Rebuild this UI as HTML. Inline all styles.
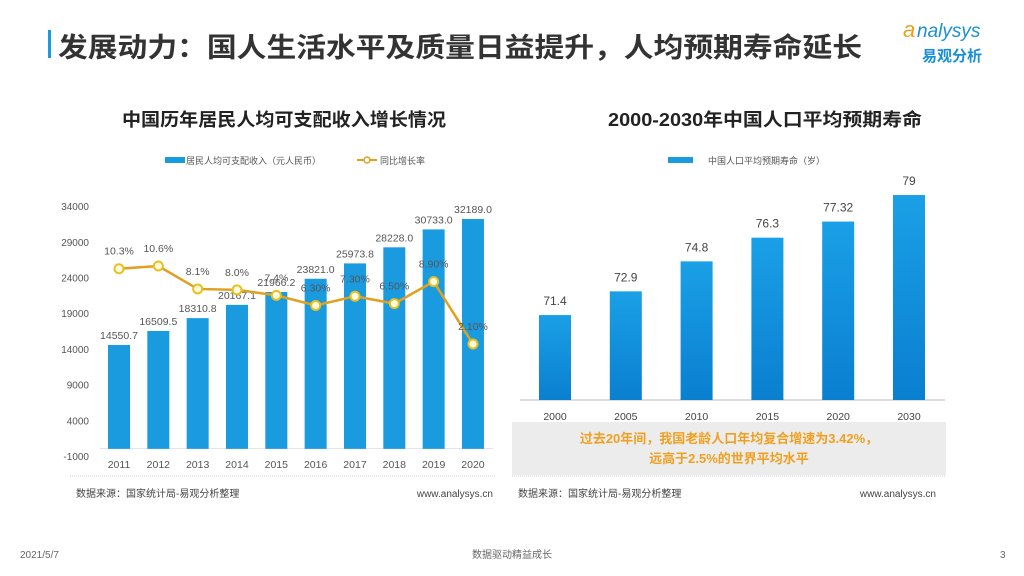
<!DOCTYPE html>
<html><head><meta charset="utf-8"><style>
body{margin:0;width:1024px;height:576px;background:#fff;overflow:hidden;font-family:"Liberation Sans","Noto Sans CJK SC",sans-serif}
svg{position:absolute;left:0;top:0}
text{font-family:"Liberation Sans","Noto Sans CJK SC",sans-serif}
</style></head><body>
<svg width="1024" height="576">
<defs><linearGradient id="bg" x1="0" y1="0" x2="0" y2="1"><stop offset="0" stop-color="#1aa0e6"/><stop offset="1" stop-color="#0a7fd0"/></linearGradient></defs>
<rect x="48" y="30" width="3" height="28" fill="#1a9be0"/>
<text x="58" y="57" font-size="27" font-weight="bold" fill="#333" textLength="804" lengthAdjust="spacingAndGlyphs">发展动力：国人生活水平及质量日益提升，人均预期寿命延长</text>
<g>
<text x="903" y="37" font-size="22" font-style="italic" fill="#f0a020">a</text>
<text x="917" y="37" font-size="19" font-style="italic" fill="#1a8fd6">nalysys</text>
<text x="922" y="61" font-size="15" font-weight="bold" fill="#1a8fd6">易观分析</text>
</g>
<text x="122" y="126" font-size="18" font-weight="bold" fill="#222" textLength="324" lengthAdjust="spacingAndGlyphs">中国历年居民人均可支配收入增长情况</text>
<text x="608" y="126" font-size="18" font-weight="bold" fill="#222" textLength="314" lengthAdjust="spacingAndGlyphs">2000-2030年中国人口平均预期寿命</text>
<g id="left"></g>
<g id="right"></g>
<rect x="512" y="422" width="434" height="53" fill="#ececec"/>
<text x="729" y="443" font-size="13" font-weight="bold" fill="#f0a020" text-anchor="middle">过去20年间，我国老龄人口年均复合增速为3.42%，</text>
<text x="729" y="463" font-size="13" font-weight="bold" fill="#f0a020" text-anchor="middle">远高于2.5%的世界平均水平</text>
<line x1="70" y1="476" x2="495" y2="476" stroke="#ccc" stroke-dasharray="1,1"/>
<line x1="512" y1="476" x2="946" y2="476" stroke="#ccc" stroke-dasharray="1,1"/>
<text x="76" y="497" font-size="10" fill="#444">数据来源：国家统计局-易观分析整理</text>
<text x="493" y="497" font-size="10" fill="#444" text-anchor="end">www.analysys.cn</text>
<text x="518" y="497" font-size="10" fill="#444">数据来源：国家统计局-易观分析整理</text>
<text x="936" y="497" font-size="10" fill="#444" text-anchor="end">www.analysys.cn</text>
<text x="20" y="558" font-size="10" fill="#666">2021/5/7</text>
<text x="512" y="558" font-size="10" fill="#666" text-anchor="middle">数据驱动精益成长</text>
<text x="1000" y="558" font-size="10" fill="#666">3</text>
</svg>
<script>
const years=["2011","2012","2013","2014","2015","2016","2017","2018","2019","2020"];
const income=[14550.7,16509.5,18310.8,20167.1,21966.2,23821.0,25973.8,28228.0,30733.0,32189.0];
const growth=[10.3,10.6,8.1,8.0,7.4,6.3,7.3,6.5,8.9,2.1];
const growthLabels=["10.3%","10.6%","8.1%","8.0%","7.4%","6.30%","7.30%","6.50%","8.90%","2.10%"];
const yTicks=[-1000,4000,9000,14000,19000,24000,29000,34000];
const lifeYears=["2000","2005","2010","2015","2020","2030"];
const lifeVals=[71.4,72.9,74.8,76.3,77.32,79];
const NS="http://www.w3.org/2000/svg";
function mk(p,tag,a,txt){const e=document.createElementNS(NS,tag);for(const k in a)e.setAttribute(k,a[k]);if(txt!=null)e.textContent=txt;p.appendChild(e);return e;}
const L=document.getElementById('left');
const yL=v=>456-(v+1000)/5000*35.7;
const xL=i=>119+i*39.33;
const yP=p=>363.3-p*9.18;
yTicks.forEach(t=>{const e=mk(L,'text',{x:89,y:yL(t)+4,'font-size':10,fill:'#555','text-anchor':'end'},t);

});
mk(L,'line',{x1:100,y1:448.5,x2:493,y2:448.5,stroke:'#e4e4e4'});
const lg1=mk(L,'rect',{x:165,y:157,width:20,height:6,fill:'#1a9be0'});


mk(L,'text',{x:186,y:164,'font-size':9,fill:'#555'},'居民人均可支配收入（元人民币）');
mk(L,'line',{x1:357,y1:160,x2:377,y2:160,stroke:'#e0a020','stroke-width':2});
mk(L,'circle',{cx:367,cy:160,r:3,fill:'#fff',stroke:'#e0a020','stroke-width':1.5});
mk(L,'text',{x:380,y:164,'font-size':9,fill:'#555'},'同比增长率');
income.forEach((v,i)=>{
const b=mk(L,'rect',{x:xL(i)-11,y:yL(v),width:22,height:yL(0)-yL(v),fill:'#1a9be0'});


const t=mk(L,'text',{x:xL(i),y:yL(v)-6,'font-size':10.5,fill:'#555','text-anchor':'middle'},v.toFixed(1));


const xt=mk(L,'text',{x:xL(i),y:468,'font-size':10.5,fill:'#555','text-anchor':'middle'},years[i]);


});
const pl=mk(L,'polyline',{points:growth.map((p,i)=>xL(i)+','+yP(p)).join(' '),fill:'none',stroke:'#e0a020','stroke-width':2.5});


growth.forEach((p,i)=>{
const c=mk(L,'circle',{cx:xL(i),cy:yP(p),r:4.5,fill:'#fffbe0',stroke:'#e8c020','stroke-width':2});


const t=mk(L,'text',{x:xL(i),y:yP(p)-14,'font-size':10.5,fill:'#555','text-anchor':'middle'},growthLabels[i]);


});
const R=document.getElementById('right');
const yR=v=>400-(v-66.02)*15.79;
const xR=i=>555+i*70.8;
mk(R,'line',{x1:520,y1:400,x2:945,y2:400,stroke:'#bbb'});
const lg2=mk(R,'rect',{x:668,y:157,width:25,height:6,fill:'#1a9be0'});


mk(R,'text',{x:708,y:164,'font-size':9,fill:'#555'},'中国人口平均预期寿命（岁）');
lifeVals.forEach((v,i)=>{
const b=mk(R,'rect',{x:xR(i)-16,y:yR(v),width:32,height:400-yR(v),fill:'url(#bg)'});


const t=mk(R,'text',{x:xR(i),y:yR(v)-10,'font-size':12,fill:'#444','text-anchor':'middle'},String(v));


const xt=mk(R,'text',{x:xR(i),y:420,'font-size':10.5,fill:'#444','text-anchor':'middle'},lifeYears[i]);


});
</script>
</body></html>
